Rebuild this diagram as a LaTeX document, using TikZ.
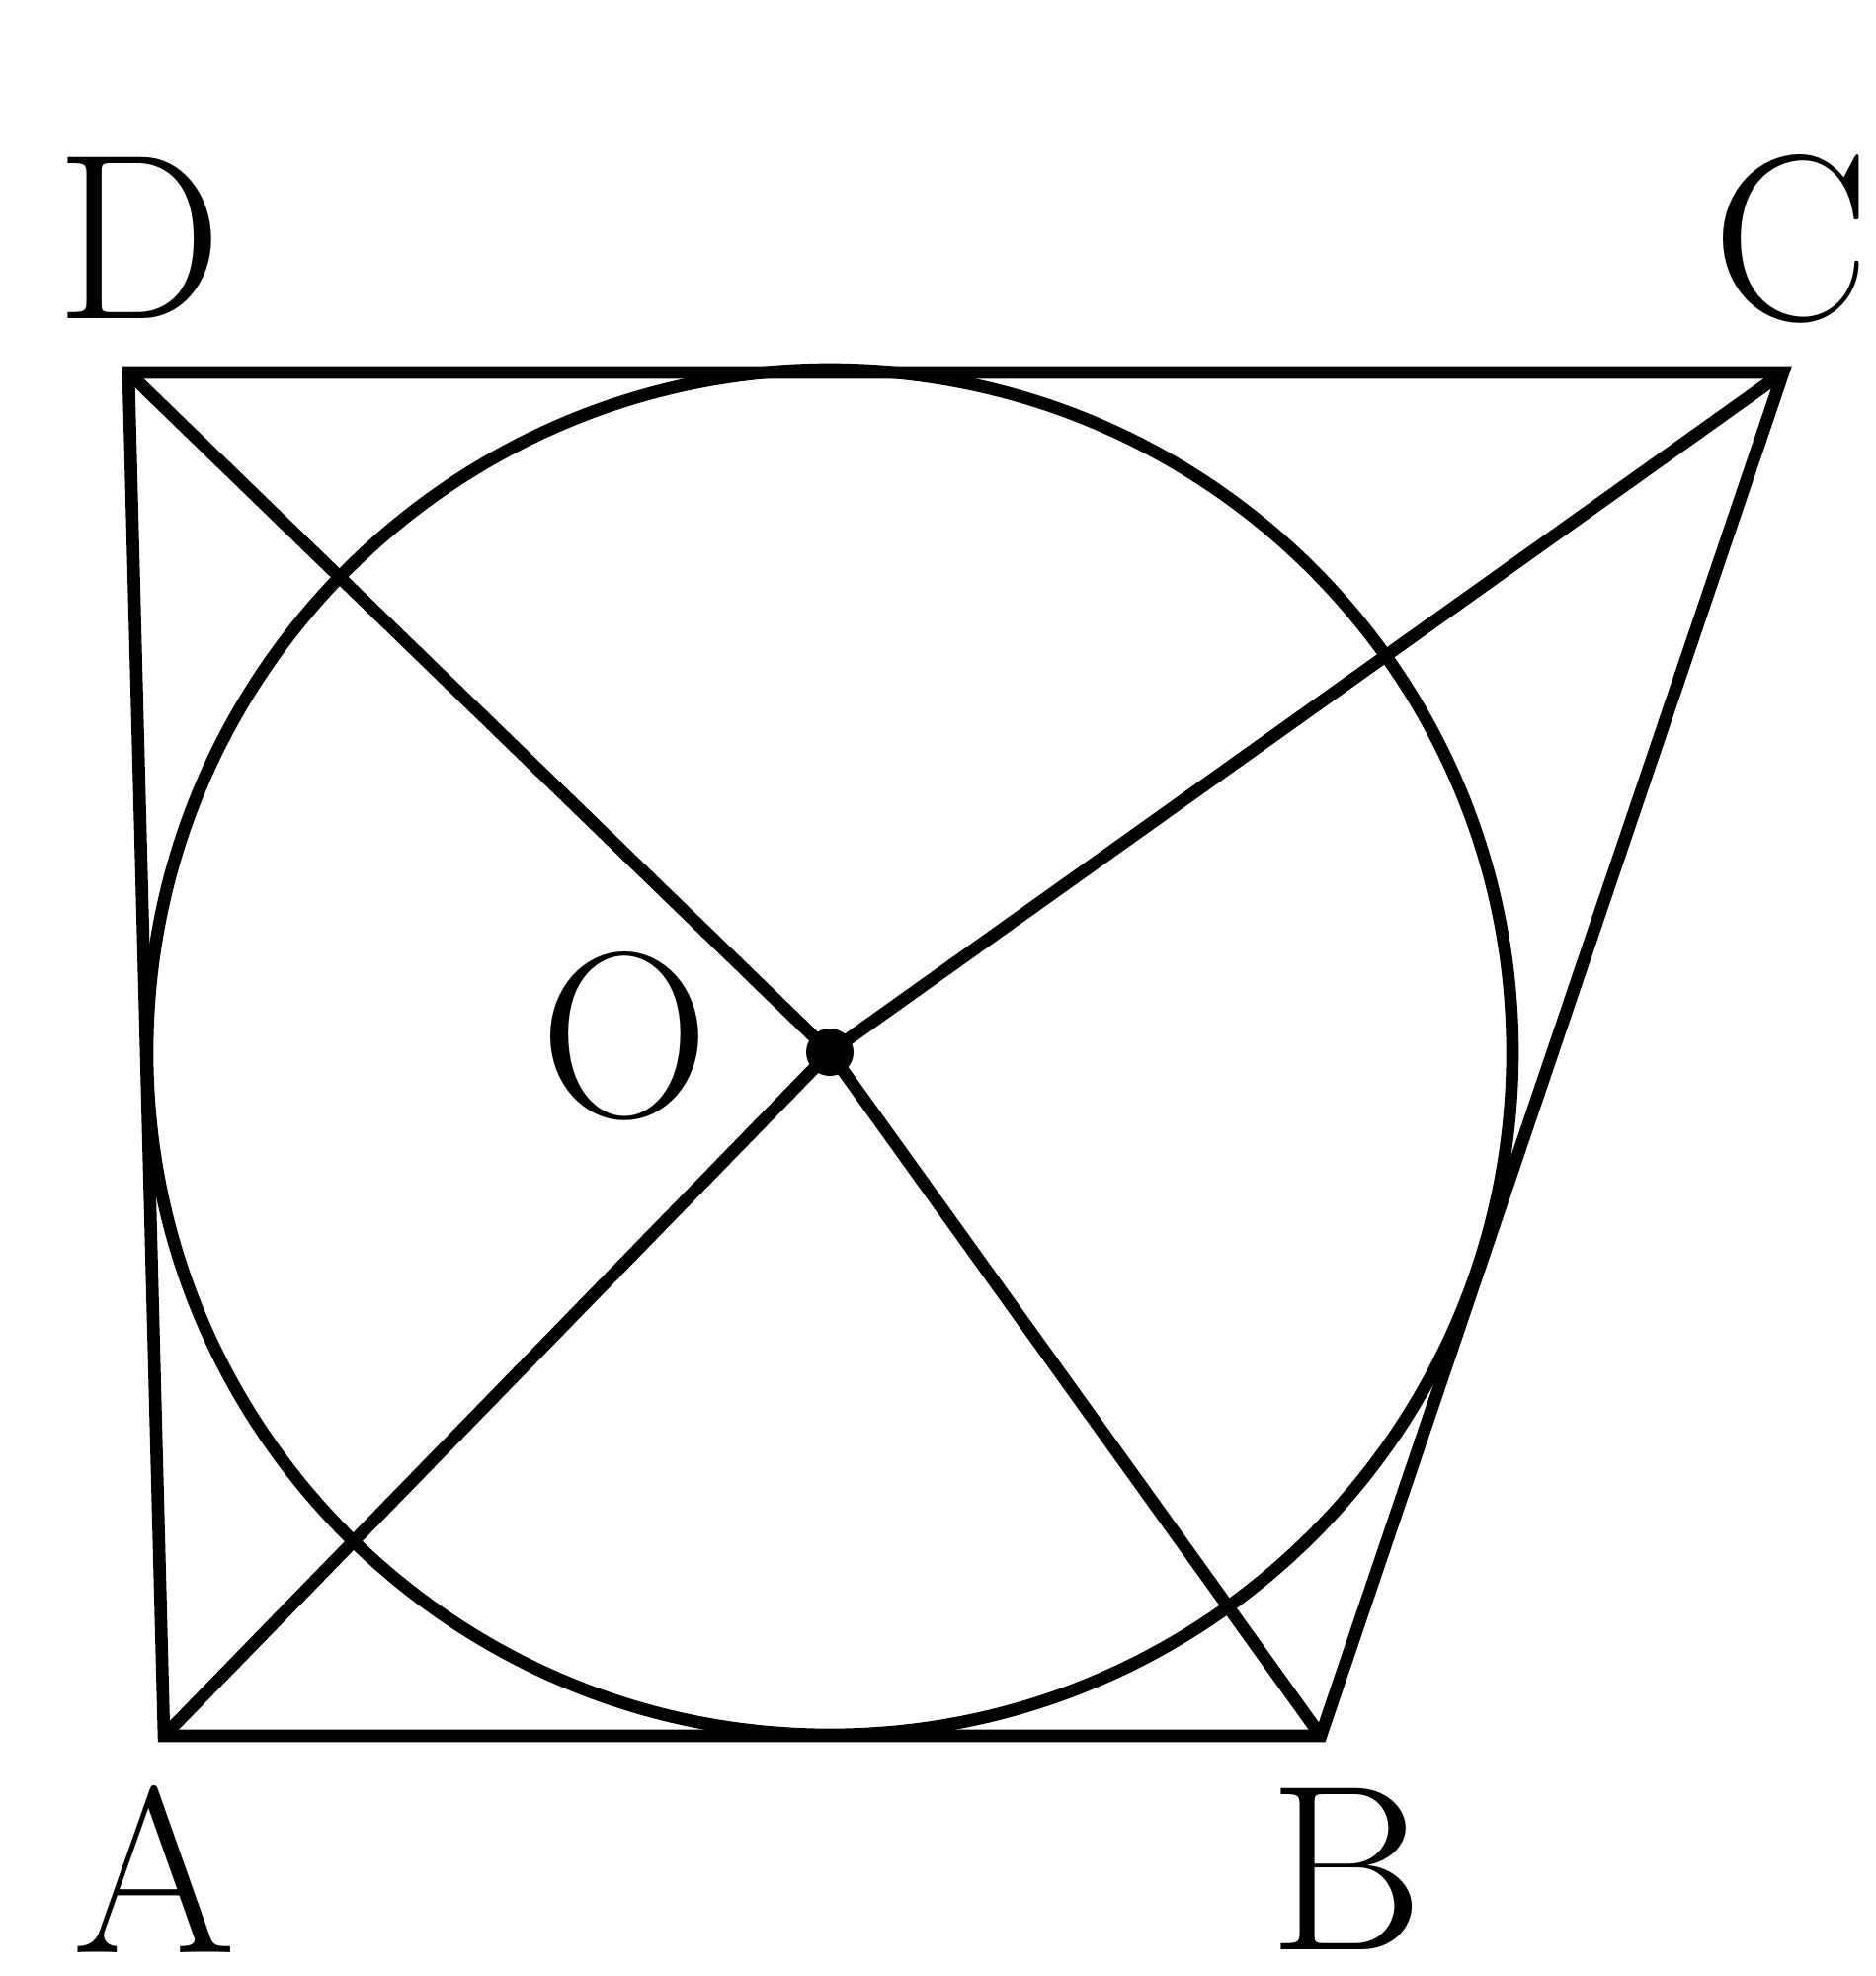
\documentclass[tikz,border=0pt]{standalone}
\usepackage{fontspec}
\usepackage{tikz}
\usetikzlibrary{positioning}

\tikzset{
  lbl/.style={inner sep=0pt, font=\fontsize{68}{80}\selectfont},
  edge/.style={line width=3.6pt, line join=miter}
}

\begin{document}
\begin{tikzpicture}
      \useasboundingbox (0,0) rectangle (18.98,20);
      \coordinate (A) at (1.66,2.43);
      \coordinate (B) at (13.37,2.43);
      \coordinate (C) at (18.05,16.23);
      \coordinate (D) at (1.30,16.23);
      \coordinate (O) at (8.40,9.35);
      \draw[edge] (A) -- (B) -- (C) -- (D) -- cycle;
      \draw[edge] (O) circle (6.91);
      \draw[edge] (D) -- (O) -- (B); % from D through O
      \draw[edge] (A) -- (O) -- (C); % from A through O
      \fill (O) circle (0.24);
      \node[lbl] (labD) at (1.41,17.59) {D};
      \node[lbl] (labC) at (18.13,17.58) {C};
      \node[lbl] (labA) at (1.56,1.08) {A};
      \node[lbl] (labB) at (13.63,1.08) {B};
      \node[lbl] (labO) at (6.33,9.51) {O};
    \end{tikzpicture}
\end{document}
